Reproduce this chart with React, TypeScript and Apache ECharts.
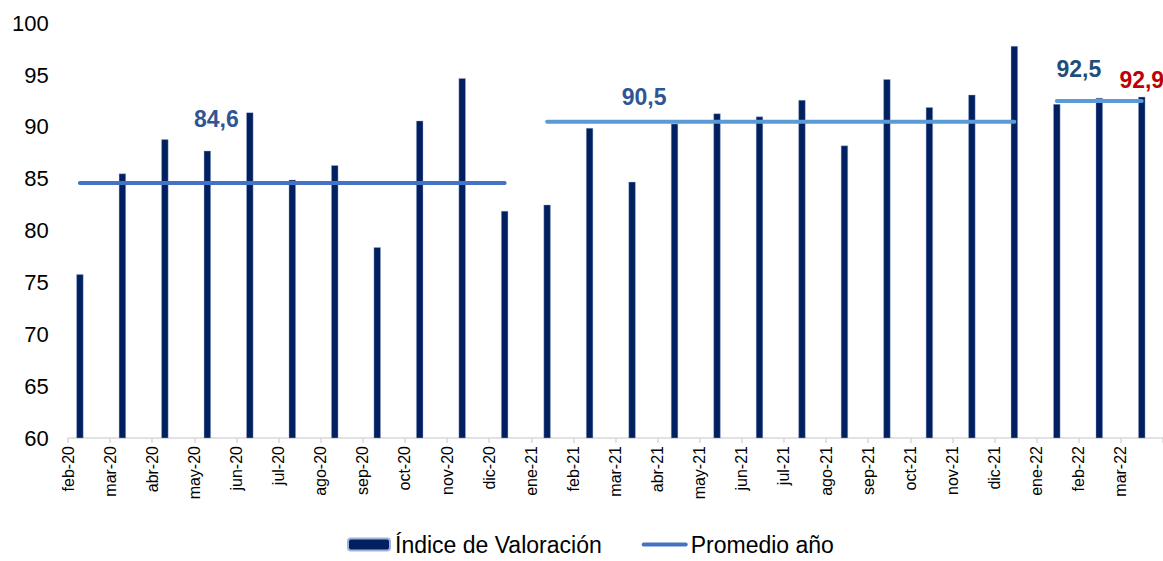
import React, { useEffect, useRef } from "react";
import * as echarts from "echarts";

const categories = [
  "feb-20", "mar-20", "abr-20", "may-20", "jun-20", "jul-20", "ago-20", "sep-20", "oct-20", "nov-20", "dic-20",
  "ene-21", "feb-21", "mar-21", "abr-21", "may-21", "jun-21", "jul-21", "ago-21", "sep-21", "oct-21", "nov-21", "dic-21",
  "ene-22", "feb-22", "mar-22",
];

const indiceValoracion = [
  75.8, 85.5, 88.8, 87.7, 91.4, 84.9, 86.3, 78.4, 90.6, 94.7, 81.9,
  82.5, 89.9, 84.7, 90.3, 91.3, 91.0, 92.6, 88.2, 94.6, 91.9, 93.1, 97.8,
  92.2, 92.8, 92.9,
];

const years = ["20", "21", "22"];
const promedioAnio = [84.6, 90.5, 92.5];
const promedioLabelIndex = [3, 13, 23];

const yTicks = { min: 60, max: 100, interval: 5 };

const fmt = (v: number) => v.toFixed(1).replace(".", ",");

export default function App() {
  const ref = useRef<HTMLDivElement>(null);

  useEffect(() => {
    if (!ref.current) return;
    const chart = echarts.init(ref.current, undefined, { renderer: "svg" });

    const band = 42.65;
    const gridTop = 23.3;
    const gridHeight = 414.7;
    const gridWidth = band * categories.length;

    const lineColors = ["#4472C4", "#5B9BD5", "#5B9BD5"];
    const labelColors = ["#2F5597", "#2F5597", "#1F4E79"];
    const labelOffsets: [number, number][] = [[9, -52], [12, -13], [22, -21]];

    const lineSeries = years.map((yy, k) => ({
      type: "line",
      name: "Promedio año",
      xAxisIndex: 0,
      yAxisIndex: 0,
      symbol: "circle",
      symbolSize: 0,
      showSymbol: true,
      connectNulls: false,
      lineStyle: { color: lineColors[k], width: 4, cap: "round" },
      itemStyle: { color: lineColors[k] },
      z: 3,
      data: categories.map((c, i) => {
        if (!c.endsWith("-" + yy)) return null;
        if (i === promedioLabelIndex[k]) {
          return {
            value: promedioAnio[k],
            label: {
              show: true,
              position: "top",
              distance: 0,
              offset: labelOffsets[k],
              formatter: (p: any) => fmt(p.value),
              color: labelColors[k],
              fontSize: 23,
              fontWeight: "bold",
              fontFamily: "Arial, 'Liberation Sans', sans-serif",
            },
          };
        }
        return promedioAnio[k];
      }),
    }));

    chart.setOption({
      animation: false,
      backgroundColor: "#ffffff",
      textStyle: { fontFamily: "Arial, 'Liberation Sans', sans-serif" },
      grid: [
        { left: 80 - band / 2, top: gridTop, width: gridWidth, height: gridHeight },
        { left: 68, top: gridTop, width: gridWidth, height: gridHeight },
      ],
      xAxis: [
        {
          type: "category",
          gridIndex: 0,
          data: categories,
          boundaryGap: true,
          show: false,
        },
        {
          type: "category",
          gridIndex: 1,
          data: [...categories, ""],
          boundaryGap: false,
          axisLine: { show: true, lineStyle: { color: "#d9d9d9", width: 1.5 } },
          axisTick: { show: true, length: 5, lineStyle: { color: "#d9d9d9", width: 1.5 } },
          axisLabel: { interval: 0, rotate: 90, fontSize: 16, color: "#000000", margin: 8 },
          splitLine: { show: false },
        },
      ],
      yAxis: [
        {
          type: "value",
          gridIndex: 0,
          min: yTicks.min,
          max: yTicks.max,
          interval: yTicks.interval,
          axisLine: { show: false },
          axisTick: { show: false },
          splitLine: { show: false },
          axisLabel: { fontSize: 22, color: "#000000", margin: 10 },
        },
        {
          type: "value",
          gridIndex: 1,
          min: yTicks.min,
          max: yTicks.max,
          show: false,
          splitLine: { show: false },
        },
      ],
      legend: {
        data: [
          { name: "Índice de Valoración" },
          { name: "Promedio año", itemStyle: { opacity: 0 }, lineStyle: { width: 4, cap: "round" } },
        ],
        left: 347,
        top: 533,
        itemWidth: 42,
        itemHeight: 12,
        itemGap: 40,
        padding: 0,
        textStyle: { fontSize: 23, color: "#000000" },
      },
      series: [
        {
          type: "bar",
          name: "Índice de Valoración",
          xAxisIndex: 0,
          yAxisIndex: 0,
          barWidth: 7,
          itemStyle: { color: "#002060", borderColor: "#9fb3d9", borderWidth: 0.4 },
          z: 2,
          data: indiceValoracion.map((v, i) =>
            i === indiceValoracion.length - 1
              ? {
                  value: v,
                  label: {
                    show: true,
                    position: "top",
                    distance: 5,
                    formatter: (p: any) => fmt(p.value),
                    color: "#C00000",
                    fontSize: 23,
                    fontWeight: "bold",
                  },
                }
              : v
          ),
        },
        ...lineSeries,
      ],
    });

    return () => chart.dispose();
  }, []);

  return (
    <div
      ref={ref}
      style={{ position: "fixed", left: 0, top: 0, width: 1163, height: 561 }}
    />
  );
}
